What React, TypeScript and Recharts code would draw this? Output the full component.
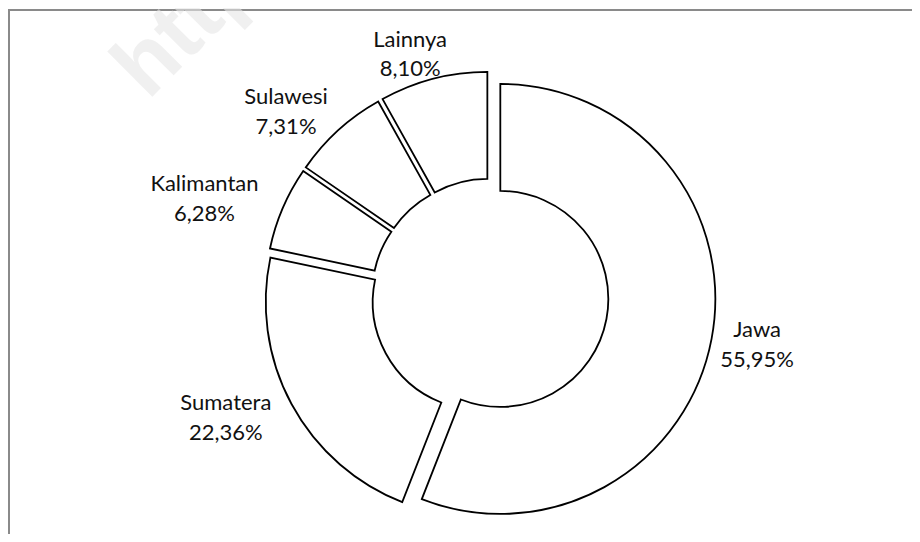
import React from 'react';
import { PieChart, Pie, Sector } from 'recharts';

const regions = ['Jawa', 'Sumatera', 'Kalimantan', 'Sulawesi', 'Lainnya'];
const shares = [55.95, 22.36, 6.28, 7.31, 8.1];
const watermarkText = 'https://';

const data = regions.map((name, i) => ({ name, value: shares[i] }));

const RAD = Math.PI / 180;
const EXPLODE = 10.5;
const GAP_X = 32;
const GAP_Y = 8;
const LABEL_DX = -8;
const FONT = 22;

const fmt = (v: number) => v.toFixed(2).replace('.', ',') + '%';

const renderSlice = (props: any) => {
  const { cx, cy, innerRadius, outerRadius, startAngle, endAngle, midAngle, index } = props;
  const ux = Math.cos(-midAngle * RAD);
  const uy = Math.sin(-midAngle * RAD);
  const sx = cx + ux * EXPLODE;
  const sy = cy + uy * EXPLODE;
  const name = regions[index];
  const pct = fmt(shares[index]);
  const chars = Math.max(name.length, pct.length);
  const hw = chars * FONT * 0.25;
  const hh = 29;
  const bx = cx + ux * (outerRadius + GAP_X) + ux * hw + LABEL_DX;
  const by = cy + uy * (outerRadius + GAP_Y) + uy * hh;
  return (
    <g key={`slice-${index}`}>
      <Sector
        cx={sx}
        cy={sy}
        innerRadius={innerRadius}
        outerRadius={outerRadius}
        startAngle={startAngle}
        endAngle={endAngle}
        fill="#ffffff"
        stroke="#000000"
        strokeWidth={1.8}
      />
      <text textAnchor="middle" fontFamily="Lato" fontSize={FONT} fill="#111111">
        <tspan x={bx} y={by - 6.5}>{name}</tspan>
        <tspan x={bx} y={by + 23}>{pct}</tspan>
      </text>
    </g>
  );
};

export default function App() {
  return (
    <div style={{ position: 'relative', width: 912, height: 526, overflow: 'hidden', background: '#fff' }}>
      <div
        style={{
          position: 'absolute',
          left: 0,
          top: 1,
          right: 0,
          bottom: 0,
          borderLeft: '2px solid #8a8a8a',
          borderTop: '2px solid #8a8a8a',
        }}
      />
      <div style={{ position: 'absolute', left: 0, top: 0 }}>
        <PieChart width={912} height={526} margin={{ top: 0, right: 0, bottom: 0, left: 0 }}>
          <Pie
            data={data}
            dataKey="value"
            nameKey="name"
            cx={482}
            cy={289}
            innerRadius={108}
            outerRadius={215}
            startAngle={90}
            endAngle={-270}
            fill="none"
            stroke="none"
            label={renderSlice}
            labelLine={false}
            isAnimationActive={false}
          />
        </PieChart>
      </div>
      <svg
        width={912}
        height={526}
        style={{ position: 'absolute', left: 0, top: 0, pointerEvents: 'none' }}
      >
        <text
          x={140}
          y={93}
          transform="rotate(-45 140 93)"
          fontFamily="Liberation Sans"
          fontWeight="bold"
          fontSize={88}
          fill="#e6e6e6"
          fillOpacity={0.6}
        >
          {watermarkText}
        </text>
      </svg>
    </div>
  );
}
